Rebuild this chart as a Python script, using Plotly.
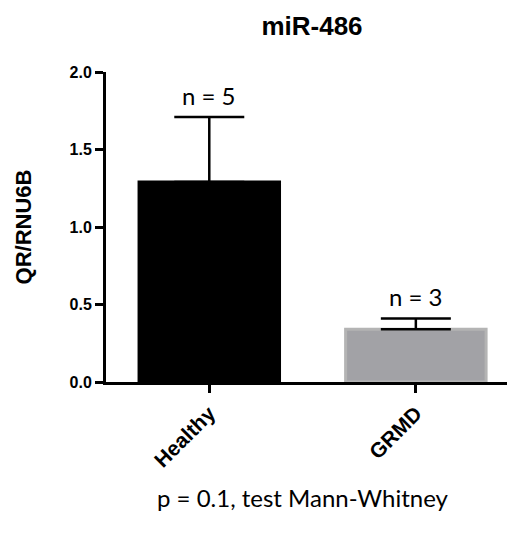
import plotly.graph_objects as go

# values
groups = ["Healthy", "GRMD"]
means = [1.29, 0.34]
sem = [0.42, 0.07]
n_labels = ["n = 5", "n = 3"]
bar_colors = ["#000000", "#a2a2a6"]
edge_colors = ["#000000", "#b4b4b4"]

# page body adds an 8px offset, so the figure is drawn 8px smaller
W, H = 507, 531
L, R, T, B = 98, 0, 64, 157

fig = go.Figure(
    go.Bar(
        x=groups,
        y=means,
        width=0.68,
        marker=dict(color=bar_colors, line=dict(color=edge_colors, width=3)),
        error_y=dict(
            type="data",
            symmetric=False,
            array=sem,
            arrayminus=[0, 0],
            color="#000000",
            thickness=2.5,
            width=35,
        ),
        showlegend=False,
        hoverinfo="skip",
    )
)

for g, m, e, lab in zip(groups, means, sem, n_labels):
    fig.add_annotation(
        x=g, y=m + e, xref="x", yref="y",
        text=lab, showarrow=False,
        yanchor="bottom", yshift=5,
        font=dict(family="Lato, Open Sans, sans-serif", size=24, color="#000"),
    )

fig.add_annotation(
    x=0.482, y=-0.371, xref="paper", yref="paper",
    text="p = 0.1, test Mann-Whitney", showarrow=False,
    xanchor="center", yanchor="middle",
    font=dict(family="Lato, Open Sans, sans-serif", size=24, color="#000"),
)

bold = "Liberation Sans, Arial, sans-serif"

fig.update_xaxes(
    range=[-0.5, 1.48],
    showline=True, linecolor="#000", linewidth=3,
    ticks="outside", ticklen=8, tickwidth=3, tickcolor="#000",
    tickangle=-45,
    tickfont=dict(family=bold, size=21, color="#000", weight="bold"),
    showgrid=False, zeroline=False, fixedrange=True,
)
fig.update_yaxes(
    range=[0, 2.0],
    tickvals=[0, 0.5, 1.0, 1.5, 2.0],
    ticktext=["0.0", "0.5", "1.0", "1.5", "2.0"],
    showline=True, linecolor="#000", linewidth=3,
    ticks="outside", ticklen=8, tickwidth=3, tickcolor="#000",
    tickfont=dict(family=bold, size=16, color="#000", weight="bold"),
    title=dict(text="QR/RNU6B",
               font=dict(family=bold, size=22, color="#000", weight="bold"),
               standoff=32),
    showgrid=False, zeroline=False, fixedrange=True,
)

fig.update_layout(
    width=W, height=H,
    margin=dict(l=L, r=R, t=T, b=B),
    paper_bgcolor="#ffffff", plot_bgcolor="#ffffff",
    title=dict(
        text="<b>miR-486</b>", x=304 / W, xanchor="center",
        y=1 - 18 / H, yanchor="middle",
        font=dict(family=bold, size=26, color="#000"),
    ),
)

fig.write_html("out.html")
